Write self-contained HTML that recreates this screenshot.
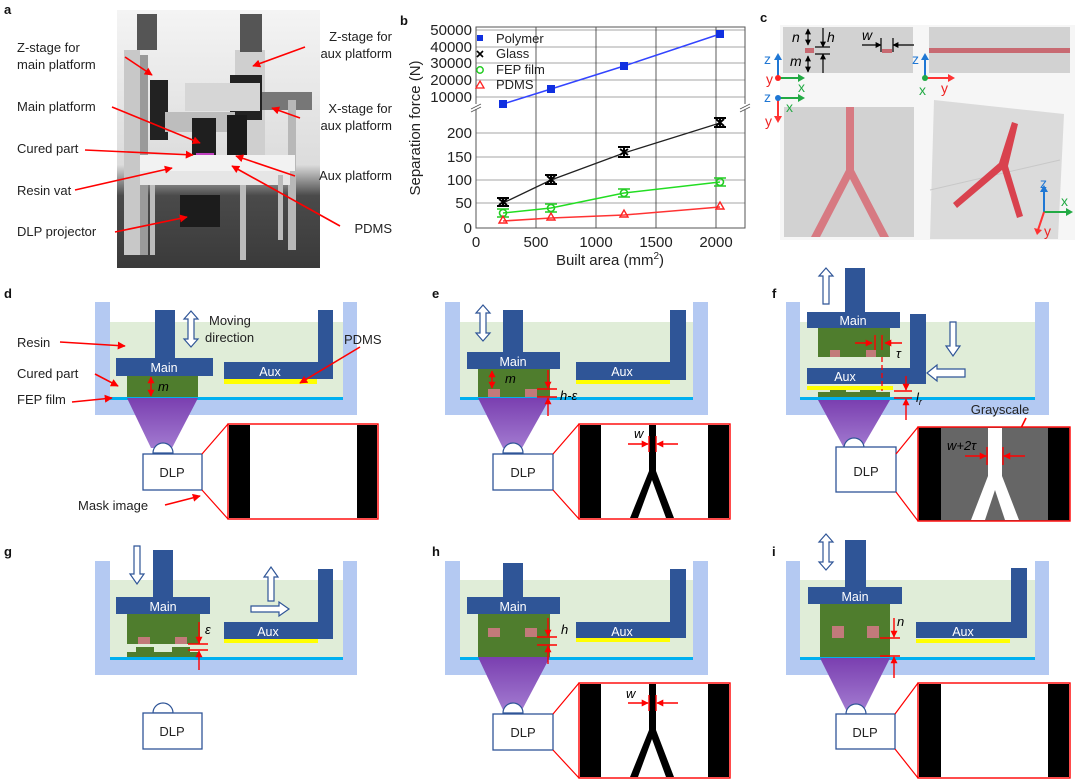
<!DOCTYPE html>
<html><head><meta charset="utf-8"><style>
html,body{margin:0;padding:0;background:#fff;}
svg{display:block;font-family:"Liberation Sans",Arial,sans-serif;}
.l{font-size:13px;fill:#222}
.pl{font-size:12.5px;fill:#fff}
.b{font-weight:bold;font-size:13px;fill:#111}
.ax{font-size:15px;fill:#222}
</style></head><body>
<svg width="1080" height="780" viewBox="0 0 1080 780" xmlns="http://www.w3.org/2000/svg">
<defs>
<marker id="ar" viewBox="0 0 10 10" refX="9" refY="5" markerWidth="5" markerHeight="5" orient="auto-start-reverse"><path d="M0,0L10,5L0,10z" fill="#f00"/></marker>
<marker id="ak" viewBox="0 0 10 10" refX="9" refY="5" markerWidth="5" markerHeight="5" orient="auto-start-reverse"><path d="M0,0L10,5L0,10z" fill="#000"/></marker>
<linearGradient id="pg" x1="0" y1="0" x2="0" y2="1"><stop offset="0" stop-color="#7a3fb0"/><stop offset="1" stop-color="#a27ad0"/></linearGradient>
<linearGradient id="bg" x1="0" y1="0" x2="0" y2="1"><stop offset="0" stop-color="#f4f4f4"/><stop offset="0.6" stop-color="#dcdcdc"/><stop offset="0.72" stop-color="#4a4a4a"/><stop offset="1" stop-color="#3a3a3a"/></linearGradient>
</defs>

<!-- ===== Panel a ===== -->
<text x="4" y="14" class="b">a</text>
<rect x="117" y="10" width="203" height="258" fill="url(#bg)"/>
<rect x="124" y="50" width="16" height="205" fill="#c8c8c8"/>
<rect x="140" y="55" width="8" height="200" fill="#9a9a9a"/>
<rect x="137" y="14" width="20" height="36" fill="#555"/>
<rect x="150" y="80" width="18" height="60" fill="#222"/>
<rect x="235" y="50" width="30" height="120" fill="#cfcfcf"/>
<rect x="240" y="14" width="22" height="38" fill="#555"/>
<rect x="230" y="75" width="32" height="45" fill="#222"/>
<rect x="185" y="83" width="75" height="28" fill="#d6d6d6"/>
<rect x="165" y="112" width="70" height="20" fill="#bdbdbd"/>
<rect x="262" y="92" width="50" height="18" fill="#777"/>
<rect x="288" y="100" width="8" height="150" fill="#b8b8b8"/>
<rect x="192" y="118" width="24" height="40" fill="#1f1f1f"/>
<rect x="227" y="115" width="20" height="45" fill="#1a1a1a"/>
<ellipse cx="228" cy="160" rx="20" ry="4" fill="#111"/>
<rect x="196" y="153" width="18" height="12" fill="#c040c0"/>
<rect x="140" y="155" width="155" height="16" fill="#f2f2f2"/>
<rect x="140" y="171" width="150" height="14" fill="#e6e6e6"/>
<rect x="150" y="185" width="5" height="70" fill="#bbb"/>
<rect x="240" y="185" width="6" height="75" fill="#bbb"/>
<rect x="278" y="175" width="5" height="65" fill="#bbb"/>
<rect x="180" y="195" width="40" height="32" fill="#1c1c1c"/>
<text x="17" y="52" class="l">Z-stage for</text>
<text x="17" y="69" class="l">main platform</text>
<text x="17" y="111" class="l">Main platform</text>
<text x="17" y="153" class="l">Cured part</text>
<text x="17" y="195" class="l">Resin vat</text>
<text x="17" y="236" class="l">DLP projector</text>
<text x="392" y="41" class="l" text-anchor="end">Z-stage for</text>
<text x="392" y="58" class="l" text-anchor="end">aux platform</text>
<text x="392" y="113" class="l" text-anchor="end">X-stage for</text>
<text x="392" y="130" class="l" text-anchor="end">aux platform</text>
<text x="392" y="180" class="l" text-anchor="end">Aux platform</text>
<text x="392" y="233" class="l" text-anchor="end">PDMS</text>
<g stroke="#f00" stroke-width="1.6" marker-end="url(#ar)">
<line x1="125" y1="57" x2="152" y2="75"/>
<line x1="112" y1="107" x2="200" y2="143"/>
<line x1="85" y1="150" x2="193" y2="155"/>
<line x1="75" y1="190" x2="172" y2="168"/>
<line x1="115" y1="232" x2="187" y2="217"/>
<line x1="305" y1="47" x2="253" y2="66"/>
<line x1="300" y1="118" x2="272" y2="108"/>
<line x1="295" y1="176" x2="236" y2="156"/>
<line x1="340" y1="226" x2="232" y2="166"/>
</g>

<!-- ===== Panel b ===== -->
<text x="400" y="25" class="b">b</text>
<g stroke="#888" stroke-width="0.8">
<line x1="476" y1="30" x2="745" y2="30"/><line x1="476" y1="47" x2="745" y2="47"/><line x1="476" y1="63" x2="745" y2="63"/><line x1="476" y1="80" x2="745" y2="80"/><line x1="476" y1="97" x2="745" y2="97"/>
<line x1="476" y1="133" x2="745" y2="133"/><line x1="476" y1="157" x2="745" y2="157"/><line x1="476" y1="180" x2="745" y2="180"/><line x1="476" y1="203" x2="745" y2="203"/>
</g>
<g stroke="#333" stroke-width="0.8">
<line x1="536" y1="27" x2="536" y2="228"/><line x1="596" y1="27" x2="596" y2="228"/><line x1="656" y1="27" x2="656" y2="228"/><line x1="716" y1="27" x2="716" y2="228"/>
</g>
<rect x="476" y="27" width="269" height="201" fill="none" stroke="#555" stroke-width="1"/>
<rect x="470" y="104" width="12" height="5" fill="#fff"/><rect x="740" y="104" width="10" height="5" fill="#fff"/>
<g stroke="#555" stroke-width="0.9"><line x1="471" y1="109" x2="481" y2="104"/><line x1="471" y1="112" x2="481" y2="107"/><line x1="740" y1="109" x2="750" y2="104"/><line x1="740" y1="112" x2="750" y2="107"/></g>
<g class="ax" text-anchor="end">
<text x="472" y="35">50000</text><text x="472" y="52">40000</text><text x="472" y="68">30000</text><text x="472" y="85">20000</text><text x="472" y="102">10000</text>
<text x="472" y="138">200</text><text x="472" y="162">150</text><text x="472" y="185">100</text><text x="472" y="208">50</text><text x="472" y="233">0</text>
</g>
<g class="ax" text-anchor="middle">
<text x="476" y="247">0</text><text x="536" y="247">500</text><text x="596" y="247">1000</text><text x="656" y="247">1500</text><text x="716" y="247">2000</text>
</g>
<text x="610" y="265" class="ax" text-anchor="middle">Built area (mm<tspan font-size="10" dy="-6">2</tspan><tspan dy="6">)</tspan></text>
<text transform="translate(420,128) rotate(-90)" class="ax" text-anchor="middle">Separation force (N)</text>
<polyline points="503,104 551,89 624,66 720,34" fill="none" stroke="#3344ff" stroke-width="1.5"/>
<g fill="#1030e0"><rect x="499" y="100" width="8" height="8"/><rect x="547" y="85" width="8" height="8"/><rect x="620" y="62" width="8" height="8"/><rect x="716" y="30" width="8" height="8"/></g>
<polyline points="503,203 551,180 624,153 720,123" fill="none" stroke="#222" stroke-width="1.3"/>
<g stroke="#000" stroke-width="2" fill="none">
<path d="M497,198h12M497,206h12M503,198v8M499,199l8,6M507,199l-8,6"/>
<path d="M545,175h12M545,184h12M551,175v9M547,176l8,7M555,176l-8,7"/>
<path d="M618,147h12M618,157h12M624,147v10M620,149l8,6M628,149l-8,6"/>
<path d="M714,118h12M714,127h12M720,118v9M716,119l8,7M724,119l-8,7"/>
</g>
<polyline points="503,213 551,208 624,193 720,182" fill="none" stroke="#22dd22" stroke-width="1.5"/>
<g stroke="#22cc22" stroke-width="1.6" fill="none">
<circle cx="503" cy="213" r="3.5"/><circle cx="551" cy="208" r="3.5"/><circle cx="624" cy="193" r="3.5"/><circle cx="720" cy="182" r="3.5"/>
<path d="M497,209h12M497,217h12M545,204h12M545,212h12M618,189h12M618,197h12M714,178h12M714,186h12"/>
</g>
<polyline points="503,221 551,218 624,215 720,207" fill="none" stroke="#ff3333" stroke-width="1.5"/>
<g stroke="#ff2222" stroke-width="1.4" fill="none">
<path d="M499,223l4,-7l4,7z"/><path d="M547,220l4,-7l4,7z"/><path d="M620,217l4,-7l4,7z"/><path d="M716,209l4,-7l4,7z"/>
</g>
<rect x="477" y="35" width="6" height="6" fill="#1030e0"/><text x="496" y="43" class="l" font-size="12">Polymer</text>
<path d="M477,51l6,6M483,51l-6,6" stroke="#000" stroke-width="1.6"/><text x="496" y="58" class="l" font-size="12">Glass</text>
<circle cx="480" cy="70" r="3.2" fill="none" stroke="#22cc22" stroke-width="1.5"/><text x="496" y="74" class="l" font-size="12">FEP film</text>
<path d="M476,88l4,-7l4,7z" fill="none" stroke="#f22" stroke-width="1.3"/><text x="496" y="89" class="l" font-size="12">PDMS</text>

<!-- ===== Panel c ===== -->
<text x="760" y="22" class="b">c</text>
<rect x="780" y="25" width="295" height="215" fill="#f6f6f6"/>
<rect x="783" y="27" width="130" height="46" fill="#d2d2d2"/>
<rect x="929" y="27" width="141" height="46" fill="#d2d2d2"/>
<rect x="929" y="48" width="141" height="5" fill="#c86a72"/>
<rect x="805" y="48" width="9" height="5" fill="#c86a72"/>
<rect x="882" y="49" width="10" height="4" fill="#c86a72"/>
<g stroke="#000" stroke-width="1.2" fill="none">
<line x1="808" y1="29" x2="808" y2="45" marker-start="url(#ak)" marker-end="url(#ak)"/>
<line x1="808" y1="56" x2="808" y2="72" marker-start="url(#ak)" marker-end="url(#ak)"/>
<line x1="823" y1="28" x2="823" y2="47" marker-end="url(#ak)"/>
<line x1="823" y1="73" x2="823" y2="54" marker-end="url(#ak)"/>
<line x1="815" y1="47" x2="830" y2="47"/><line x1="815" y1="54" x2="830" y2="54"/>
<line x1="862" y1="45" x2="881" y2="45" marker-end="url(#ak)"/>
<line x1="914" y1="45" x2="893" y2="45" marker-end="url(#ak)"/>
<line x1="881" y1="38" x2="881" y2="52"/><line x1="893" y1="38" x2="893" y2="52"/>
</g>
<text x="792" y="42" font-size="14" font-style="italic">n</text>
<text x="827" y="42" font-size="14" font-style="italic">h</text>
<text x="790" y="66" font-size="14" font-style="italic">m</text>
<text x="862" y="40" font-size="14" font-style="italic">w</text>
<rect x="784" y="107" width="130" height="130" fill="#d2d2d2"/>
<path d="M846,107h8v63l35,67h-9l-30,-58l-30,58h-9l35,-67z" fill="#d77a82"/>
<path d="M934,100l130,14l-6,125h-128z" fill="#d8d8d8" opacity="0.9"/>
<path d="M930,190l130,-30" stroke="#c8c8c8" fill="none"/>
<path d="M1012,122l6,2l-10,42l15,50l-6,2l-15,-48l-45,38l-4,-5l46,-40z" fill="#d9424e"/>
<g stroke-width="2" fill="none">
<line x1="778" y1="78" x2="778" y2="58" stroke="#1f77d4"/>
<line x1="778" y1="78" x2="800" y2="78" stroke="#22aa44"/>
<line x1="925" y1="78" x2="925" y2="58" stroke="#1f77d4"/>
<line x1="925" y1="78" x2="950" y2="78" stroke="#f33"/>
<line x1="778" y1="98" x2="800" y2="98" stroke="#22aa44"/>
<line x1="778" y1="98" x2="778" y2="118" stroke="#f33"/>
<line x1="1044" y1="212" x2="1044" y2="190" stroke="#1f77d4"/>
<line x1="1044" y1="212" x2="1068" y2="212" stroke="#22aa44"/>
<line x1="1044" y1="212" x2="1038" y2="230" stroke="#f33"/>
</g>
<g>
<path d="M774,60l4,-7l4,7z" fill="#1f77d4"/><path d="M798,74l7,4l-7,4z" fill="#22aa44"/><circle cx="778" cy="78" r="3" fill="#f22"/>
<path d="M921,60l4,-7l4,7z" fill="#1f77d4"/><path d="M948,74l7,4l-7,4z" fill="#f33"/><circle cx="925" cy="78" r="3" fill="#22aa44"/>
<path d="M798,94l7,4l-7,4z" fill="#22aa44"/><path d="M774,116l4,7l4,-7z" fill="#f33"/><circle cx="778" cy="98" r="3" fill="#1f77d4"/>
<path d="M1040,192l4,-7l4,7z" fill="#1f77d4"/><path d="M1066,208l7,4l-7,4z" fill="#22aa44"/><path d="M1034,228l3,7l5,-5z" fill="#f33"/>
</g>
<g font-size="14">
<text x="764" y="64" fill="#1f77d4">z</text><text x="766" y="84" fill="#e22">y</text><text x="798" y="92" fill="#22aa44">x</text>
<text x="912" y="64" fill="#1f77d4">z</text><text x="919" y="95" fill="#22aa44">x</text><text x="941" y="93" fill="#e22">y</text>
<text x="764" y="102" fill="#1f77d4">z</text><text x="786" y="112" fill="#22aa44">x</text><text x="765" y="126" fill="#e22">y</text>
<text x="1040" y="188" fill="#1f77d4">z</text><text x="1061" y="206" fill="#22aa44">x</text><text x="1044" y="236" fill="#e22">y</text>
</g>

<!-- ===== vats ===== -->
<g>
<rect x="95" y="302" width="262" height="113" fill="#b4c9f2"/>
<rect x="110" y="302" width="233" height="95" fill="#fff"/>
<rect x="110" y="322" width="233" height="75" fill="#e0edd8"/>
<rect x="110" y="397" width="233" height="3" fill="#00b0f0"/>
</g>
<g>
<rect x="445" y="302" width="263" height="113" fill="#b4c9f2"/>
<rect x="460" y="302" width="233" height="95" fill="#fff"/>
<rect x="460" y="322" width="233" height="75" fill="#e0edd8"/>
<rect x="460" y="397" width="233" height="3" fill="#00b0f0"/>
</g>
<g>
<rect x="786" y="302" width="263" height="113" fill="#b4c9f2"/>
<rect x="800" y="302" width="235" height="95" fill="#fff"/>
<rect x="800" y="322" width="235" height="75" fill="#e0edd8"/>
<rect x="800" y="397" width="235" height="3" fill="#00b0f0"/>
</g>
<g>
<rect x="95" y="561" width="262" height="114" fill="#b4c9f2"/>
<rect x="110" y="561" width="233" height="96" fill="#fff"/>
<rect x="110" y="580" width="233" height="77" fill="#e0edd8"/>
<rect x="110" y="657" width="233" height="3" fill="#00b0f0"/>
</g>
<g>
<rect x="445" y="561" width="263" height="114" fill="#b4c9f2"/>
<rect x="460" y="561" width="233" height="96" fill="#fff"/>
<rect x="460" y="580" width="233" height="77" fill="#e0edd8"/>
<rect x="460" y="657" width="233" height="3" fill="#00b0f0"/>
</g>
<g>
<rect x="786" y="561" width="263" height="114" fill="#b4c9f2"/>
<rect x="800" y="561" width="235" height="96" fill="#fff"/>
<rect x="800" y="580" width="235" height="77" fill="#e0edd8"/>
<rect x="800" y="657" width="235" height="3" fill="#00b0f0"/>
</g>

<!-- ===== d ===== -->
<text x="4" y="298" class="b">d</text>
<path d="M127,398H198L172,448H151z" fill="url(#pg)"/>
<rect x="127" y="375" width="71" height="22" fill="#4f7d2d"/>
<rect x="155" y="310" width="20" height="50" fill="#2f5597"/>
<rect x="116" y="358" width="97" height="18" fill="#2f5597"/>
<text x="164" y="372" class="pl" text-anchor="middle">Main</text>
<rect x="224" y="362" width="109" height="17" fill="#2f5597"/><rect x="318" y="310" width="15" height="69" fill="#2f5597"/>
<text x="270" y="376" class="pl" text-anchor="middle">Aux</text>
<rect x="224" y="379" width="93" height="5" fill="#ffff00"/>
<line x1="151" y1="377" x2="151" y2="396" stroke="#f00" stroke-width="1.4" marker-start="url(#ar)" marker-end="url(#ar)"/>
<text x="158" y="391" font-size="13" font-style="italic">m</text>
<path d="M191,311l-7,8h4v20h-4l7,8l7,-8h-4v-20h4z" fill="#fff" stroke="#2f5597" stroke-width="1.2"/>
<text x="209" y="325" class="l">Moving</text>
<text x="205" y="342" class="l">direction</text>
<text x="17" y="347" class="l">Resin</text>
<text x="17" y="378" class="l">Cured part</text>
<text x="17" y="404" class="l">FEP film</text>
<text x="344" y="344" class="l">PDMS</text>
<text x="78" y="510" class="l">Mask image</text>
<g stroke="#f00" stroke-width="1.6" marker-end="url(#ar)">
<line x1="60" y1="342" x2="125" y2="346"/>
<line x1="95" y1="374" x2="118" y2="386"/>
<line x1="72" y1="402" x2="112" y2="398"/>
<line x1="360" y1="347" x2="300" y2="383"/>
<line x1="165" y1="505" x2="200" y2="496"/>
</g>
<path d="M153,453a10,10 0 0 1 20,0z" fill="#fff" stroke="#2f5597" stroke-width="1.2"/>
<rect x="143" y="454" width="59" height="36" fill="#fff" stroke="#2f5597" stroke-width="1.3"/>
<text x="172" y="477" class="l" font-size="14" text-anchor="middle">DLP</text>
<g stroke="#f00" stroke-width="1.2"><line x1="202" y1="454" x2="228" y2="424"/><line x1="202" y1="490" x2="228" y2="519"/></g>
<rect x="228" y="424" width="150" height="95" fill="#fff" stroke="#f00" stroke-width="1.4"/>
<rect x="229" y="425" width="21" height="93" fill="#000"/><rect x="357" y="425" width="20" height="93" fill="#000"/>

<!-- ===== e ===== -->
<text x="432" y="298" class="b">e</text>
<path d="M478,398H550L522,448H503z" fill="url(#pg)"/>
<rect x="478" y="369" width="72" height="28" fill="#4f7d2d"/>
<rect x="488" y="389" width="12" height="8" fill="#c27a7a"/><rect x="525" y="389" width="12" height="8" fill="#c27a7a"/>
<rect x="503" y="310" width="20" height="44" fill="#2f5597"/>
<rect x="467" y="352" width="93" height="17" fill="#2f5597"/>
<text x="513" y="366" class="pl" text-anchor="middle">Main</text>
<rect x="576" y="362" width="110" height="18" fill="#2f5597"/><rect x="670" y="310" width="16" height="70" fill="#2f5597"/>
<text x="622" y="376" class="pl" text-anchor="middle">Aux</text>
<rect x="576" y="380" width="94" height="4" fill="#ffff00"/>
<path d="M483,305l-7,8h4v20h-4l7,8l7,-8h-4v-20h4z" fill="#fff" stroke="#2f5597" stroke-width="1.2"/>
<line x1="492" y1="371" x2="492" y2="388" stroke="#f00" stroke-width="1.4" marker-start="url(#ar)" marker-end="url(#ar)"/>
<text x="505" y="383" font-size="13" font-style="italic">m</text>
<g stroke="#f00" stroke-width="1.4"><line x1="537" y1="389" x2="557" y2="389"/><line x1="537" y1="397" x2="557" y2="397"/>
<line x1="548" y1="370" x2="548" y2="388" marker-end="url(#ar)"/><line x1="548" y1="416" x2="548" y2="398" marker-end="url(#ar)"/></g>
<text x="560" y="400" font-size="13" font-style="italic">h-ε</text>
<path d="M503,453a10,10 0 0 1 20,0z" fill="#fff" stroke="#2f5597" stroke-width="1.2"/>
<rect x="493" y="454" width="60" height="36" fill="#fff" stroke="#2f5597" stroke-width="1.3"/>
<text x="523" y="477" class="l" font-size="14" text-anchor="middle">DLP</text>
<g stroke="#f00" stroke-width="1.2"><line x1="553" y1="454" x2="579" y2="424"/><line x1="553" y1="490" x2="579" y2="519"/></g>
<rect x="579" y="424" width="151" height="95" fill="#fff" stroke="#f00" stroke-width="1.4"/>
<rect x="580" y="425" width="21" height="93" fill="#000"/><rect x="708" y="425" width="21" height="93" fill="#000"/>
<path d="M649,425h7v46l18,47h-8l-14,-38l-14,38h-8l19,-47z" fill="#000"/>
<g stroke="#f00" stroke-width="1.4"><line x1="628" y1="444" x2="648" y2="444" marker-end="url(#ar)"/><line x1="678" y1="444" x2="657" y2="444" marker-end="url(#ar)"/><line x1="649" y1="436" x2="649" y2="452"/><line x1="656" y1="436" x2="656" y2="452"/></g>
<text x="634" y="438" font-size="13" font-style="italic">w</text>

<!-- ===== f ===== -->
<text x="772" y="298" class="b">f</text>
<path d="M818,400H890L862,448H844z" fill="url(#pg)"/>
<rect x="845" y="268" width="20" height="46" fill="#2f5597"/>
<rect x="807" y="312" width="93" height="16" fill="#2f5597"/>
<text x="853" y="325" class="pl" text-anchor="middle">Main</text>
<rect x="818" y="328" width="72" height="29" fill="#4f7d2d"/>
<rect x="830" y="350" width="10" height="7" fill="#c27a7a"/><rect x="866" y="350" width="10" height="7" fill="#c27a7a"/>
<rect x="807" y="368" width="119" height="16" fill="#2f5597"/><rect x="910" y="314" width="16" height="70" fill="#2f5597"/>
<text x="845" y="381" class="pl" text-anchor="middle">Aux</text>
<rect x="807" y="386" width="86" height="4" fill="#ffff00"/>
<path d="M818,397v-5h12v-2h16v2h14v-2h16v2h14v5z" fill="#4f7d2d"/>
<line x1="882" y1="357" x2="882" y2="391" stroke="#f00" stroke-width="1.3" stroke-dasharray="5,3"/>
<g stroke="#f00" stroke-width="1.4"><line x1="855" y1="343" x2="872" y2="343" marker-end="url(#ar)"/><line x1="902" y1="343" x2="885" y2="343" marker-end="url(#ar)"/><line x1="875" y1="335" x2="875" y2="350"/><line x1="882" y1="335" x2="882" y2="350"/>
<line x1="894" y1="391" x2="912" y2="391"/><line x1="894" y1="398" x2="912" y2="398"/>
<line x1="906" y1="376" x2="906" y2="390" marker-end="url(#ar)"/><line x1="906" y1="420" x2="906" y2="399" marker-end="url(#ar)"/></g>
<text x="896" y="358" font-size="13" font-style="italic">τ</text>
<text x="916" y="402" font-size="13" font-style="italic">l<tspan font-size="9" dy="3">r</tspan></text>
<path d="M826,268l-7,8h4v28h6v-28h4z" fill="#fff" stroke="#2f5597" stroke-width="1.2"/>
<path d="M950,322h6v24h4l-7,10l-7,-10h4z" fill="#fff" stroke="#2f5597" stroke-width="1.2"/>
<path d="M927,373l10,-8v4h28v8h-28v4z" fill="#fff" stroke="#2f5597" stroke-width="1.2"/>
<text x="1000" y="414" class="l" font-size="14" text-anchor="middle">Grayscale</text>
<line x1="1026" y1="418" x2="1014" y2="442" stroke="#f00" stroke-width="1.6" marker-end="url(#ar)"/>
<path d="M844,448a10,10 0 0 1 20,0z" fill="#fff" stroke="#2f5597" stroke-width="1.2"/>
<rect x="836" y="447" width="60" height="45" fill="#fff" stroke="#2f5597" stroke-width="1.3"/>
<text x="866" y="476" class="l" font-size="14" text-anchor="middle">DLP</text>
<g stroke="#f00" stroke-width="1.2"><line x1="896" y1="454" x2="918" y2="427"/><line x1="896" y1="492" x2="918" y2="521"/></g>
<rect x="918" y="427" width="152" height="94" fill="#666" stroke="#f00" stroke-width="1.4"/>
<rect x="919" y="428" width="22" height="92" fill="#000"/><rect x="1048" y="428" width="21" height="92" fill="#000"/>
<path d="M988,428h14v48l17,44h-14l-10,-30l-10,30h-14l17,-44z" fill="#fff"/>
<g stroke="#f00" stroke-width="1.4"><line x1="965" y1="456" x2="986" y2="456" marker-end="url(#ar)"/><line x1="1025" y1="456" x2="1004" y2="456" marker-end="url(#ar)"/><line x1="987" y1="447" x2="987" y2="465"/><line x1="1003" y1="447" x2="1003" y2="465"/></g>
<text x="947" y="450" font-size="13" font-style="italic" fill="#000">w+2τ</text>

<!-- ===== g ===== -->
<text x="4" y="556" class="b">g</text>
<rect x="153" y="550" width="20" height="49" fill="#2f5597"/>
<rect x="116" y="597" width="94" height="17" fill="#2f5597"/>
<text x="163" y="611" class="pl" text-anchor="middle">Main</text>
<rect x="127" y="614" width="73" height="30" fill="#4f7d2d"/>
<rect x="138" y="637" width="12" height="7" fill="#c27a7a"/><rect x="175" y="637" width="12" height="7" fill="#c27a7a"/>
<path d="M127,657v-5h9v-5h18v5h18v-5h18v5h8v5z" fill="#4f7d2d"/>
<rect x="224" y="622" width="109" height="17" fill="#2f5597"/><rect x="318" y="569" width="15" height="70" fill="#2f5597"/>
<text x="268" y="636" class="pl" text-anchor="middle">Aux</text>
<rect x="224" y="639" width="94" height="4" fill="#ffff00"/>
<path d="M134,546h6v28h4l-7,10l-7,-10h4z" fill="#fff" stroke="#2f5597" stroke-width="1.2"/>
<path d="M268,601v-24h-4l7,-10l7,10h-4v24z" fill="#fff" stroke="#2f5597" stroke-width="1.2"/>
<path d="M251,606h28v-4l10,7l-10,7v-4h-28z" fill="#fff" stroke="#2f5597" stroke-width="1.2"/>
<g stroke="#f00" stroke-width="1.4"><line x1="188" y1="644" x2="208" y2="644"/><line x1="188" y1="650" x2="208" y2="650"/>
<line x1="199" y1="622" x2="199" y2="643" marker-end="url(#ar)"/><line x1="199" y1="670" x2="199" y2="651" marker-end="url(#ar)"/></g>
<text x="205" y="634" font-size="13" font-style="italic">ε</text>
<path d="M153,713a10,10 0 0 1 20,0z" fill="#fff" stroke="#2f5597" stroke-width="1.2"/>
<rect x="143" y="713" width="59" height="36" fill="#fff" stroke="#2f5597" stroke-width="1.3"/>
<text x="172" y="736" class="l" font-size="14" text-anchor="middle">DLP</text>

<!-- ===== h ===== -->
<text x="432" y="556" class="b">h</text>
<path d="M478,657H550L522,710H503z" fill="url(#pg)"/>
<rect x="503" y="563" width="20" height="36" fill="#2f5597"/>
<rect x="467" y="597" width="93" height="17" fill="#2f5597"/>
<text x="513" y="611" class="pl" text-anchor="middle">Main</text>
<rect x="478" y="614" width="72" height="43" fill="#4f7d2d"/>
<rect x="488" y="628" width="12" height="9" fill="#c27a7a"/><rect x="525" y="628" width="12" height="9" fill="#c27a7a"/>
<rect x="576" y="622" width="110" height="16" fill="#2f5597"/><rect x="670" y="569" width="16" height="69" fill="#2f5597"/>
<text x="622" y="636" class="pl" text-anchor="middle">Aux</text>
<rect x="576" y="638" width="94" height="4" fill="#ffff00"/>
<g stroke="#f00" stroke-width="1.4"><line x1="537" y1="637" x2="557" y2="637"/><line x1="537" y1="645" x2="557" y2="645"/>
<line x1="548" y1="618" x2="548" y2="636" marker-end="url(#ar)"/><line x1="548" y1="664" x2="548" y2="646" marker-end="url(#ar)"/></g>
<text x="561" y="634" font-size="13" font-style="italic">h</text>
<path d="M503,713a10,10 0 0 1 20,0z" fill="#fff" stroke="#2f5597" stroke-width="1.2"/>
<rect x="493" y="714" width="60" height="36" fill="#fff" stroke="#2f5597" stroke-width="1.3"/>
<text x="523" y="737" class="l" font-size="14" text-anchor="middle">DLP</text>
<g stroke="#f00" stroke-width="1.2"><line x1="553" y1="714" x2="579" y2="683"/><line x1="553" y1="750" x2="579" y2="778"/></g>
<rect x="579" y="683" width="151" height="95" fill="#fff" stroke="#f00" stroke-width="1.4"/>
<rect x="580" y="684" width="21" height="93" fill="#000"/><rect x="708" y="684" width="21" height="93" fill="#000"/>
<path d="M649,684h7v46l18,47h-8l-14,-38l-14,38h-8l19,-47z" fill="#000"/>
<g stroke="#f00" stroke-width="1.4"><line x1="628" y1="703" x2="648" y2="703" marker-end="url(#ar)"/><line x1="678" y1="703" x2="657" y2="703" marker-end="url(#ar)"/><line x1="649" y1="695" x2="649" y2="711"/><line x1="656" y1="695" x2="656" y2="711"/></g>
<text x="626" y="698" font-size="13" font-style="italic">w</text>

<!-- ===== i ===== -->
<text x="772" y="556" class="b">i</text>
<path d="M820,658H890L864,710H846z" fill="url(#pg)"/>
<rect x="845" y="540" width="21" height="49" fill="#2f5597"/>
<rect x="808" y="587" width="94" height="17" fill="#2f5597"/>
<text x="855" y="601" class="pl" text-anchor="middle">Main</text>
<rect x="820" y="604" width="70" height="53" fill="#4f7d2d"/>
<rect x="832" y="626" width="12" height="12" fill="#c27a7a"/><rect x="867" y="626" width="12" height="12" fill="#c27a7a"/>
<rect x="916" y="622" width="111" height="16" fill="#2f5597"/><rect x="1011" y="568" width="16" height="70" fill="#2f5597"/>
<text x="963" y="636" class="pl" text-anchor="middle">Aux</text>
<rect x="916" y="639" width="94" height="4" fill="#ffff00"/>
<path d="M826,534l-7,8h4v20h-4l7,8l7,-8h-4v-20h4z" fill="#fff" stroke="#2f5597" stroke-width="1.2"/>
<g stroke="#f00" stroke-width="1.4"><line x1="880" y1="638" x2="900" y2="638"/><line x1="880" y1="656" x2="900" y2="656"/>
<line x1="894" y1="618" x2="894" y2="637" marker-end="url(#ar)"/><line x1="894" y1="678" x2="894" y2="657" marker-end="url(#ar)"/></g>
<text x="897" y="626" font-size="13" font-style="italic">n</text>
<path d="M846,714a10,10 0 0 1 20,0z" fill="#fff" stroke="#2f5597" stroke-width="1.2"/>
<rect x="836" y="714" width="59" height="35" fill="#fff" stroke="#2f5597" stroke-width="1.3"/>
<text x="865" y="737" class="l" font-size="14" text-anchor="middle">DLP</text>
<g stroke="#f00" stroke-width="1.2"><line x1="895" y1="714" x2="918" y2="683"/><line x1="895" y1="749" x2="918" y2="778"/></g>
<rect x="918" y="683" width="152" height="95" fill="#fff" stroke="#f00" stroke-width="1.4"/>
<rect x="919" y="684" width="22" height="93" fill="#000"/><rect x="1048" y="684" width="21" height="93" fill="#000"/>
</svg>
</body></html>
